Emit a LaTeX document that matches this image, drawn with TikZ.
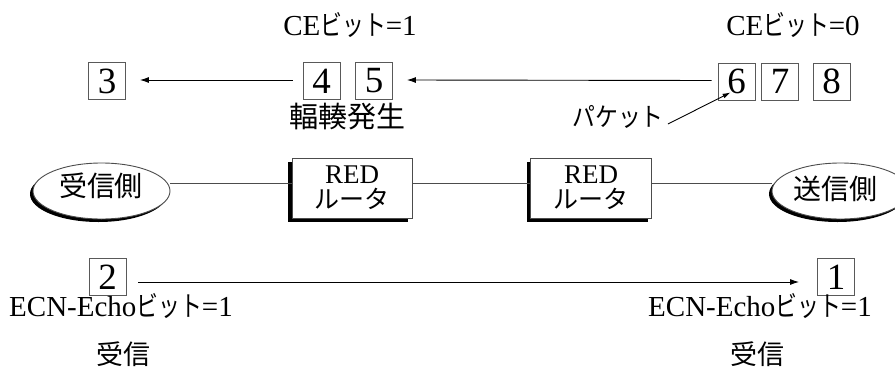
\documentclass[tikz,border=0pt]{standalone}
\usepackage{fontspec}
\setmainfont{Liberation Serif}
\newfontfamily\jp{Noto Sans CJK JP}
\newcommand{\kana}[3][0.88]{{\jp\fontsize{#2}{#2}\selectfont\scalebox{#1}[1]{#3}}}
\usetikzlibrary{arrows.meta,shapes.geometric,shadows,calc}
\begin{document}
\begin{tikzpicture}[x=1pt,y=-1pt,
  numbox/.style={draw=black!65,line width=0.9pt,minimum width=37pt,minimum height=37pt,inner sep=0pt,
     font=\fontsize{37}{37}\selectfont},
  redbox/.style={draw=black!70,line width=0.9pt,fill=white,minimum width=120pt,minimum height=60pt,inner sep=0pt,
     drop shadow={shadow xshift=-4pt,shadow yshift=-4pt,fill=black,opacity=1},align=center,
     font=\fontsize{27}{25}\selectfont},
  hostell/.style={ellipse,draw=black!70,line width=0.9pt,fill=white,minimum width=137pt,minimum height=56pt,inner sep=0pt,
     drop shadow={shadow xshift=-3pt,shadow yshift=-3pt,fill=black,opacity=1}},
  conn/.style={draw=black!70,line width=0.9pt},
  arr/.style={draw=black,line width=0.9pt,-{Latex[length=9pt,width=6pt]}},
  lbl/.style={inner sep=0pt,anchor=base},
  jtxt/.style={inner sep=0pt}
]
\useasboundingbox (0,0) rectangle (895,367);

% top labels
\node[lbl] (ce1) at (350,35) {\fontsize{29}{30}\selectfont CE\kana[0.78]{28}{ビット}=1};
\node[lbl] (ce0) at (793,35) {\fontsize{29}{30}\selectfont CE\kana[0.78]{28}{ビット}=0};

% top packets
\node[numbox] (b3) at (107,81) {3};
\node[numbox] (b4) at (321.5,81) {4};
\node[numbox] (b5) at (374,81) {5};
\node[numbox] (b6) at (736.5,81.5) {6};
\node[numbox] (b7) at (780,81.5) {7};
\node[numbox] (b8) at (831.5,81.5) {8};

\draw[arr] ($(b4.west)+(-10,-1)$) -- ($(b3.east)+(14,-1)$);
\draw[arr] ($(b6.west)+(-6,-1)$) -- ($(b5.east)+(14,-1)$);

\node[jtxt] (cong) at (347,117) {\jp\fontsize{29}{29}\selectfont 輻輳発生};
\node[jtxt] (pk) at (618,117) {\kana{26}{パケット}};
\coordinate (pktip) at ($(b6.south west)+(13,-8)$);
\draw[arr,-{Latex[length=8pt,width=5pt]}] ($(pk.east)+(4,7)$) -- (pktip);

% middle row
\node[hostell] (recv) at (101.5,191) {};
\node[jtxt] at (101,186) {\jp\fontsize{28}{28}\selectfont 受信側};
\node[redbox] (r1) at (352,188) {RED\\{\jp\fontsize{25}{25}\selectfont ルータ}};
\node[redbox,minimum width=121pt] (r2) at (591,188) {RED\\{\jp\fontsize{25}{25}\selectfont ルータ}};
\node[hostell] (send) at (840.5,191) {};
\node[jtxt] at (835,189) {\jp\fontsize{28}{28}\selectfont 送信側};

\draw[conn] ([yshift=8pt]recv.east) -- ([yshift=5pt]r1.west);
\draw[conn] ([yshift=5pt]r1.east) -- ([yshift=5pt]r2.west);
\draw[conn] ([yshift=5pt]r2.east) -- ([yshift=8pt]send.west);

% bottom row
\node[numbox] (b2) at (107.5,277) {2};
\node[numbox] (b1) at (836,277) {1};
\draw[arr] ($(b2.east)+(12,5)$) -- ($(b1.west)+(-18,5)$);

\node[lbl] (ecnl) at (121,316) {\fontsize{29}{30}\selectfont ECN-Echo\kana[0.78]{28}{ビット}=1};
\node[lbl] (ecnr) at (760,316) {\fontsize{29}{30}\selectfont ECN-Echo\kana[0.78]{28}{ビット}=1};
\node[jtxt] (rl) at (123,354) {\jp\fontsize{27}{27}\selectfont 受信};
\node[jtxt] (rr) at (757,354) {\jp\fontsize{27}{27}\selectfont 受信};
\end{tikzpicture}
\end{document}
